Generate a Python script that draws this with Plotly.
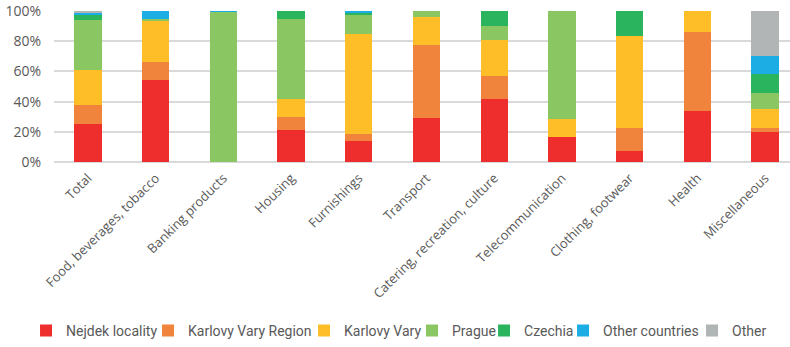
import plotly.graph_objects as go

# Origin of purchases by spending category (share of spending, %)
categories = [
    "Total", "Food, beverages, tobacco", "Banking products", "Housing",
    "Furnishings", "Transport", "Catering, recreation, culture",
    "Telecommunication", "Clothing, footwear", "Health", "Miscellaneous",
]

nejdek_locality = [25.2, 54.3, 0.0, 21.2, 13.7, 28.9, 41.7, 16.3, 7.3, 34.0, 20.1]
karlovy_vary_region = [12.3, 11.9, 0.0, 8.8, 4.8, 48.8, 15.3, 0.0, 15.4, 51.9, 2.4]
karlovy_vary = [23.6, 27.6, 0.0, 11.5, 66.0, 18.1, 23.8, 12.4, 60.7, 14.1, 12.6]
prague = [33.2, 0.7, 99.6, 53.0, 12.6, 4.2, 9.3, 71.3, 0.0, 0.0, 10.6]
czechia = [3.1, 0.0, 0.0, 5.5, 2.2, 0.0, 9.9, 0.0, 16.6, 0.0, 12.6]
other_countries = [1.5, 5.5, 0.4, 0.0, 0.7, 0.0, 0.0, 0.0, 0.0, 0.0, 12.1]
other = [1.1, 0.0, 0.0, 0.0, 0.0, 0.0, 0.0, 0.0, 0.0, 0.0, 29.6]

# (name, values, colour, legend entry width in px)
series = [
    ("Nejdek locality", nejdek_locality, "#EE2E2D", 77),
    ("Karlovy Vary Region", karlovy_vary_region, "#F0843D", 111),
    ("Karlovy Vary", karlovy_vary, "#FDBE28", 63),
    ("Prague", prague, "#8AC763", 27),
    ("Czechia", czechia, "#2BB45E", 34),
    ("Other countries", other_countries, "#1BADE4", 84),
    ("Other", other, "#B2B5B6", 36),
]

fig = go.Figure()
for name, values, color, lw in series:
    fig.add_trace(go.Bar(
        name=name,
        x=categories,
        y=values,
        legendwidth=lw,
        marker=dict(color=color, line=dict(width=0)),
    ))

text_color = "#595959"
font_family = "Open Sans, DejaVu Sans, sans-serif"
legend_family = "Roboto, sans-serif"

fig.update_layout(
    barmode="stack",
    bargap=0.596,
    width=790,
    height=347,
    margin=dict(l=54, r=0, t=11, b=185),
    plot_bgcolor="white",
    paper_bgcolor="white",
    font=dict(family=font_family, size=13, color=text_color),
    showlegend=True,
    legend=dict(
        orientation="h",
        x=-0.038, xanchor="left",
        y=-1.224, yanchor="bottom",
        font=dict(family=legend_family, size=14, color=text_color),
        itemwidth=30,
        traceorder="normal",
    ),
    xaxis=dict(
        range=[-0.5, 10.367],
        tickangle=-45,
        showgrid=False,
        showline=False,
        ticks="",
        ticklabelstandoff=5,
        tickfont=dict(size=13, color=text_color),
    ),
    yaxis=dict(
        range=[0, 100],
        tickvals=[0, 20, 40, 60, 80, 100],
        ticktext=["0%", "20%", "40%", "60%", "80%", "100%"],
        showgrid=True,
        gridcolor="#D9D9D9",
        gridwidth=1.5,
        zeroline=True,
        zerolinecolor="#D9D9D9",
        zerolinewidth=1.5,
        showline=False,
        ticks="",
        ticklabelstandoff=12,
        tickfont=dict(size=14, color=text_color),
    ),
)

fig.write_html("out.html")
